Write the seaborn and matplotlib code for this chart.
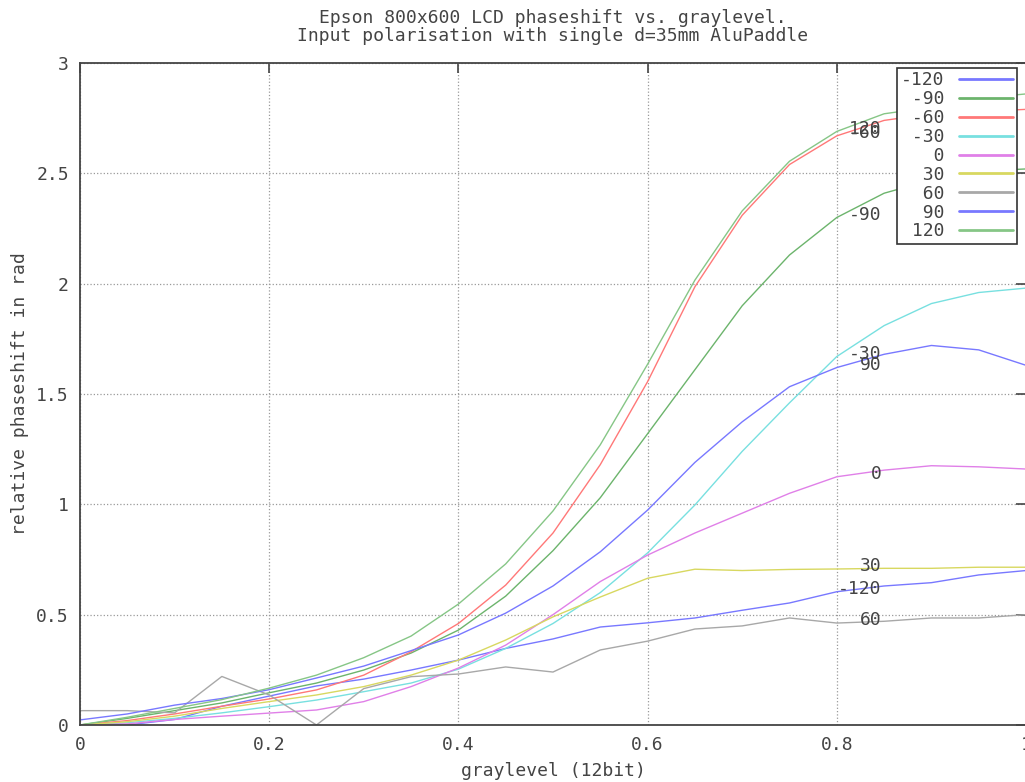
import numpy as np
import pandas as pd
import matplotlib
matplotlib.use('Agg')
import matplotlib.pyplot as plt
import seaborn as sns

# graylevel grid (12bit scaled to 0..1)
graylevel = [0.0, 0.05, 0.1, 0.15, 0.2, 0.25, 0.3, 0.35, 0.4, 0.45, 0.5,
             0.55, 0.6, 0.65, 0.7, 0.75, 0.8, 0.85, 0.9, 0.95, 1.0]

# relative phaseshift per input polarisation angle
shift_m120 = [0.0, 0.0, 0.025, 0.085, 0.131, 0.177, 0.208, 0.249, 0.294, 0.347, 0.39,
              0.444, 0.463, 0.485, 0.52, 0.553, 0.604, 0.63, 0.645, 0.68, 0.70]
shift_m90 = [0.0, 0.03, 0.065, 0.1, 0.146, 0.19, 0.249, 0.326, 0.43, 0.584, 0.79,
             1.03, 1.32, 1.61, 1.90, 2.13, 2.30, 2.41, 2.47, 2.51, 2.52]
shift_m60 = [0.0, 0.02, 0.05, 0.085, 0.118, 0.159, 0.226, 0.332, 0.46, 0.634, 0.87,
             1.18, 1.556, 1.986, 2.31, 2.54, 2.67, 2.74, 2.77, 2.78, 2.79]
shift_m30 = [0.0, 0.01, 0.03, 0.055, 0.083, 0.113, 0.151, 0.19, 0.253, 0.347, 0.46,
             0.6, 0.78, 0.997, 1.24, 1.46, 1.67, 1.81, 1.91, 1.96, 1.98]
shift_0 = [0.0, 0.005, 0.025, 0.04, 0.054, 0.068, 0.106, 0.174, 0.258, 0.362, 0.50,
           0.65, 0.77, 0.87, 0.96, 1.05, 1.125, 1.155, 1.175, 1.17, 1.16]
shift_30 = [0.0, 0.015, 0.04, 0.075, 0.106, 0.136, 0.174, 0.226, 0.294, 0.385, 0.49,
            0.58, 0.665, 0.706, 0.70, 0.705, 0.707, 0.71, 0.71, 0.715, 0.715]
shift_60 = [0.065, 0.065, 0.055, 0.22, 0.136, 0.0, 0.165, 0.219, 0.231, 0.263, 0.24,
            0.34, 0.38, 0.435, 0.449, 0.485, 0.462, 0.47, 0.485, 0.485, 0.50]
shift_90 = [0.023, 0.05, 0.09, 0.12, 0.16, 0.213, 0.267, 0.337, 0.408, 0.507, 0.63,
            0.785, 0.974, 1.19, 1.374, 1.533, 1.62, 1.68, 1.72, 1.70, 1.63]
shift_120 = [0.0, 0.035, 0.075, 0.115, 0.167, 0.226, 0.305, 0.403, 0.548, 0.73, 0.97,
             1.27, 1.635, 2.016, 2.33, 2.555, 2.69, 2.77, 2.80, 2.84, 2.86]

angles = ['-120', '-90', '-60', '-30', '0', '30', '60', '90', '120']
series = [shift_m120, shift_m90, shift_m60, shift_m30, shift_0,
          shift_30, shift_60, shift_90, shift_120]
colors = ['#7878ff', '#6cb46c', '#ff7878', '#78e0e0', '#e080e8',
          '#d8d860', '#a8a8a8', '#7878ff', '#86c686']

FS = 13
TXT = '#444444'

sns.set_theme(style='white')
plt.rcParams['font.family'] = ['DejaVu Sans Mono', 'DejaVu Sans']
plt.rcParams['text.color'] = TXT
plt.rcParams['axes.labelcolor'] = TXT
plt.rcParams['xtick.color'] = TXT
plt.rcParams['ytick.color'] = TXT

fig = plt.figure(figsize=(10.25, 7.82), dpi=100)
ax = fig.add_axes([0.078, 0.0729, 0.923, 0.8465])

for ang, vals, col in zip(angles, series, colors):
    df = pd.DataFrame({'graylevel': graylevel, 'shift': vals})
    sns.lineplot(data=df, x='graylevel', y='shift', color=col, linewidth=1.0,
                 label=ang.rjust(4), ax=ax, sort=False)
    # curve label next to the point at graylevel 0.8
    ax.annotate(ang, xy=(0.847, vals[16]), xytext=(0, 2), textcoords='offset points',
                ha='right', va='center', fontsize=FS, color=TXT)

ax.set_xlim(0, 1)
ax.set_ylim(0, 3)
ax.set_xticks([0, 0.2, 0.4, 0.6, 0.8, 1.0])
ax.set_xticklabels(['0', '0.2', '0.4', '0.6', '0.8', '1'])
ax.set_yticks([0, 0.5, 1, 1.5, 2, 2.5, 3])
ax.set_yticklabels(['0', '0.5', '1', '1.5', '2', '2.5', '3'])
ax.grid(True, linestyle=':', color='#999999', linewidth=0.9)
ax.tick_params(direction='in', top=True, right=True, length=7, width=1.2,
               labelsize=FS, pad=8)
for sp in ax.spines.values():
    sp.set_color('#444444')
    sp.set_linewidth(1.3)

ax.set_xlabel('graylevel (12bit)', fontsize=FS, labelpad=6)
ax.set_ylabel('relative phaseshift in rad', fontsize=FS, labelpad=5)
ax.set_title('Epson 800x600 LCD phaseshift vs. graylevel.\n'
             'Input polarisation with single d=35mm AluPaddle',
             fontsize=FS, pad=16, linespacing=1.0)

leg = ax.legend(loc='upper right', bbox_to_anchor=(0.99, 0.993), markerfirst=False,
                fancybox=False, framealpha=1, edgecolor='#333333', fontsize=FS,
                handlelength=3.0, labelspacing=0.05, borderpad=0.2, handletextpad=0.8,
                borderaxespad=0.0)
leg.get_frame().set_linewidth(1.2)
for line in leg.get_lines():
    line.set_linewidth(2.0)

fig.savefig('out.png', dpi=100)
